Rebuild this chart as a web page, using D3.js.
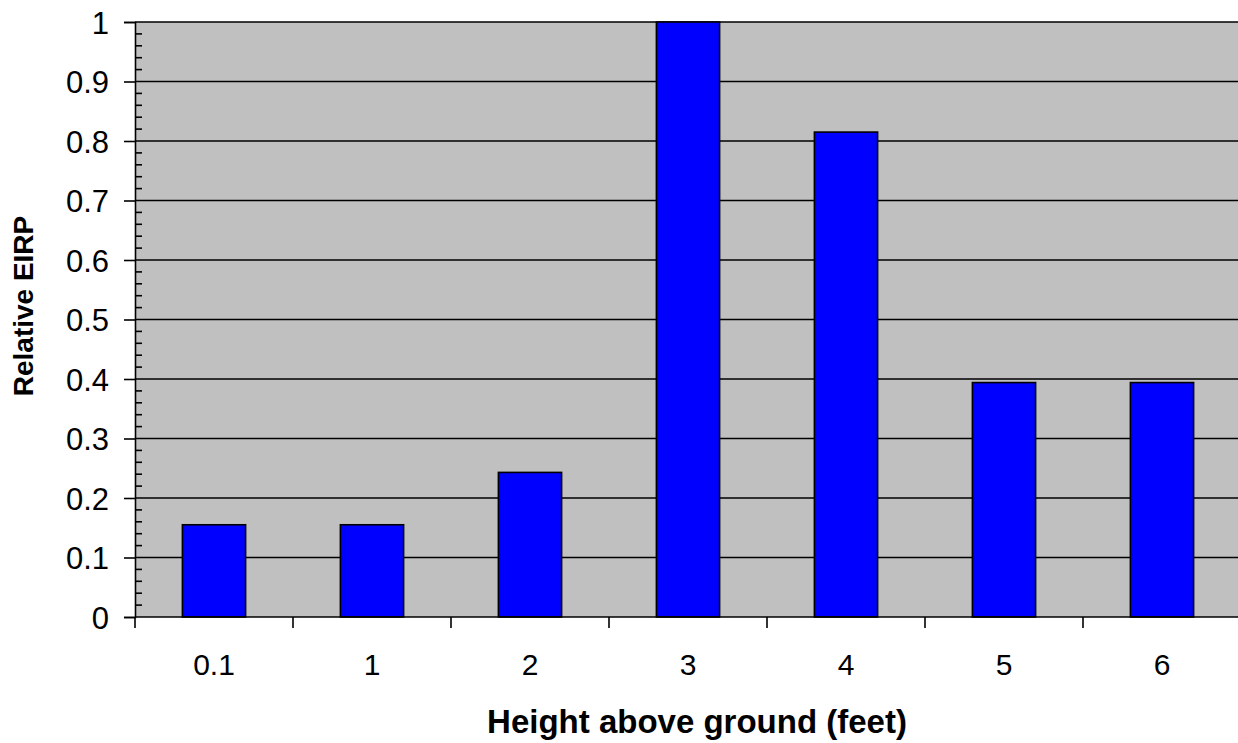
<!DOCTYPE html>
<html><head><meta charset="utf-8">
<script src="https://cdn.jsdelivr.net/npm/d3@7"></script>
<style>body{margin:0;background:#fff;} svg{display:block;}</style>
</head><body>
<svg id="c" width="1238" height="743"></svg>
<script>
const categories = ["0.1","1","2","3","4","5","6"];
const values = [0.155, 0.155, 0.243, 1.0, 0.815, 0.394, 0.394];
const yTicks = [0,0.1,0.2,0.3,0.4,0.5,0.6,0.7,0.8,0.9,1];
const yTickLabels = ["0","0.1","0.2","0.3","0.4","0.5","0.6","0.7","0.8","0.9","1"];
const xTitle = "Height above ground (feet)";
const yTitle = "Relative EIRP";

const svg = d3.select("#c");
const L = 135, T = 22, B = 617, R = 1241;
const font = "'Liberation Sans', Arial, sans-serif";
const x = d3.scaleBand().domain(categories).range([L, R]).paddingInner(0.6).paddingOuter(0.3);
const y = d3.scaleLinear().domain([0,1]).range([B, T]);

svg.append("rect").attr("x", L).attr("y", T).attr("width", R - L).attr("height", B - T).attr("fill", "#c0c0c0");

// gridlines
svg.append("g").selectAll("line").data(yTicks.slice(1)).join("line")
  .attr("x1", L).attr("x2", R).attr("y1", d => y(d)).attr("y2", d => y(d))
  .attr("stroke", "#000").attr("stroke-width", 1.6);

// bars
svg.append("g").selectAll("rect").data(values).join("rect")
  .attr("x", (d,i) => x(categories[i])).attr("width", x.bandwidth())
  .attr("y", d => y(d)).attr("height", d => y(0) - y(d))
  .attr("fill", "#0000ff").attr("stroke", "#000").attr("stroke-width", 1.6);

// y axis
const yAxis = d3.axisLeft(y).tickValues(yTicks).tickFormat((d,i) => yTickLabels[i]).tickSize(11).tickPadding(15);
const gy = svg.append("g").attr("transform", `translate(${L},0)`).call(yAxis);
gy.attr("font-size", null).attr("font-family", null);
gy.select(".domain").attr("stroke", "#000").attr("stroke-width", 1.6);
gy.selectAll(".tick line").attr("stroke", "#000").attr("stroke-width", 1.6);
gy.selectAll("text").style("font-family", font).style("font-size", "31px").attr("fill", "#000").attr("dy", "0.36em");

// minor ticks
const minor = d3.range(0, 1.0001, 0.02).filter(v => Math.abs(v*10 - Math.round(v*10)) > 1e-6);
svg.append("g").selectAll("line").data(minor).join("line")
  .attr("x1", L).attr("x2", L + 7).attr("y1", d => y(d)).attr("y2", d => y(d))
  .attr("stroke", "#000").attr("stroke-width", 1.6);

// x axis
const step = x.step();
const gx = svg.append("g");
gx.append("line").attr("x1", L).attr("x2", R).attr("y1", B).attr("y2", B).attr("stroke", "#000").attr("stroke-width", 1.6);
gx.selectAll("line.t").data(d3.range(categories.length + 1)).join("line").attr("class","t")
  .attr("x1", i => L + i*step).attr("x2", i => L + i*step).attr("y1", B).attr("y2", B + 11)
  .attr("stroke", "#000").attr("stroke-width", 1.6);
gx.selectAll("text").data(categories).join("text")
  .attr("x", d => x(d) + x.bandwidth()/2).attr("y", 675)
  .attr("text-anchor", "middle").style("font-family", font).style("font-size", "30px").text(d => d);

svg.append("text").attr("x", 697).attr("y", 733).attr("text-anchor", "middle")
  .style("font-family", font).style("font-size", "33px").attr("font-weight", "bold").text(xTitle);
svg.append("text").attr("transform", "translate(33,306) rotate(-90)").attr("text-anchor", "middle")
  .style("font-family", font).style("font-size", "28px").attr("font-weight", "bold").text(yTitle);
</script>
</body></html>
